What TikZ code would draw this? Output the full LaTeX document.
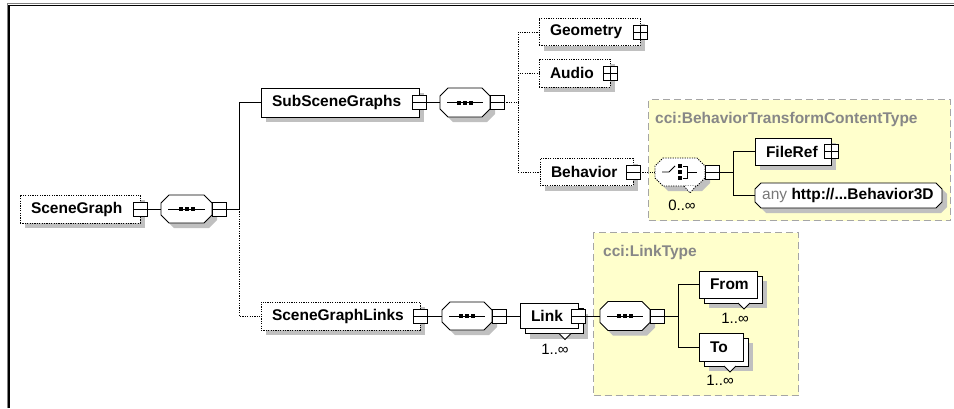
\documentclass[tikz,border=0pt]{standalone}
\usepackage{fontspec}
\setmainfont{Liberation Sans}
\usetikzlibrary{calc,shadows}
\definecolor{shadowc}{RGB}{192,192,192}
\definecolor{ylw}{RGB}{255,255,204}
\definecolor{ydash}{RGB}{165,165,165}
\definecolor{lblgray}{RGB}{135,135,135}
\definecolor{anygray}{RGB}{120,120,120}
\pgfdeclarelayer{bg}
\pgfsetlayers{bg,main}
\newcommand\octo[3]{($(#1.north west)+(#3+#2,#2)$) -- ($(#1.north east)+(-#3+#2,#2)$) -- ($(#1.north east)+(#2,#3+#2)$) -- ($(#1.south east)+(#2,-#3+#2)$) -- ($(#1.south east)+(-#3+#2,#2)$) -- ($(#1.south west)+(#3+#2,#2)$) -- ($(#1.south west)+(#2,-#3+#2)$) -- ($(#1.north west)+(#2,#3+#2)$) -- cycle}
\newcommand\seqsym[1]{%
  \draw[link] ($(#1.west)+(7,0)$) -- ($(#1.east)+(-7,0)$);
  \foreach \dx in {-6,0,6} \fill ($(#1.center)+(\dx-2,-2)$) rectangle +(4,4);}
\newcommand\octshape[2]{% name, extra style
  \begin{pgfonlayer}{bg}
    \fill[shadowc] \octo{#1}{5}{8};
    \filldraw[fill=white, link, #2] \octo{#1}{0}{8};
  \end{pgfonlayer}}
\tikzset{
  link/.style={line width=0.8pt},
  opt/.style={dash pattern=on 1.2pt off 1.2pt},
  elem/.style={draw, fill=white, line width=0.8pt, font=\bfseries\fontsize{15.5}{18}\selectfont,
    inner xsep=11pt, inner ysep=0pt, outer sep=0pt, anchor=west, align=left},
  shad/.style={drop shadow={shadow xshift=5pt, shadow yshift=-5pt, fill=shadowc, opacity=1}},
  sqbox/.style={draw, fill=white, line width=0.8pt, minimum size=14pt, inner sep=0pt, outer sep=0pt},
  minus/.style={sqbox, path picture={\draw[line width=0.8pt] (path picture bounding box.west) -- (path picture bounding box.east);}},
  plus/.style={sqbox, path picture={\draw[line width=0.8pt] (path picture bounding box.west) -- (path picture bounding box.east) (path picture bounding box.north) -- (path picture bounding box.south);}},
  octn/.style={inner sep=0pt, outer sep=0pt},
  ybox/.style={draw=ydash, fill=ylw, dash pattern=on 7pt off 4pt, line width=1pt, inner sep=0pt, anchor=north west},
  ylabel/.style={anchor=west, text=lblgray, font=\bfseries\fontsize{15.5}{18}\selectfont, inner sep=0pt},
  mult/.style={font=\fontsize{15}{17}\selectfont, inner sep=0pt},
  notch/.style={fill=white, line width=0.8pt}
}
\begin{document}
\begin{tikzpicture}[x=1pt,y=-1pt]
\useasboundingbox (0,0) rectangle (954,408);
% frame
\draw[gray, line width=1pt] (7,408) -- (7,3.5) -- (954,3.5);
\draw[black, line width=1.6pt] (9,408) -- (9,5.5) -- (954,5.5);

% yellow type boxes
\begin{pgfonlayer}{bg}
\node[ybox, minimum width=302pt, minimum height=121pt] (bt) at (648,99) {};
\node[ybox, minimum width=205pt, minimum height=163pt] (lt) at (593,232) {};
\end{pgfonlayer}
\node[ylabel] (btl) at (655,119) {cci:BehaviorTransformContentType};
\node[ylabel] (ltl) at (603,252) {cci:LinkType};

% SceneGraph
\node[elem, opt, shad, minimum height=28pt, text width=98pt] (sg) at (20,209) {SceneGraph};
\node[minus] (sgx) at (sg.east) {};
\node[octn, minimum width=51pt, minimum height=28pt] (s1) at (186.5,209) {};
\octshape{s1}{}
\seqsym{s1}
\node[minus, anchor=west] (s1x) at (s1.east) {};
\coordinate (j1) at (239,209);

% SubSceneGraphs
\node[elem, shad, minimum height=29pt, text width=136pt] (ssg) at (261,102.5) {SubSceneGraphs};
\node[minus] (ssgx) at (ssg.east) {};
\node[octn, minimum width=50pt, minimum height=29pt] (s2) at (465,102.5) {};
\octshape{s2}{}
\seqsym{s2}
\node[minus, anchor=west] (s2x) at (s2.east) {};
\coordinate (j2) at (518,102.5);

\node[elem, opt, shad, minimum height=27pt, text width=79pt] (geo) at (539,32) {Geometry};
\node[plus] (geox) at (geo.east) {};
\node[elem, opt, shad, minimum height=28pt, text width=49pt] (aud) at (539,73) {Audio};
\node[plus] (audx) at (aud.east) {};
\node[elem, opt, shad, minimum height=27pt, text width=71pt] (beh) at (540,172) {Behavior};
\node[minus] (behx) at (beh.east) {};

% choice
\node[octn, minimum width=50pt, minimum height=28pt] (ch) at (680,172) {};
\octshape{ch}{opt}
\begin{pgfonlayer}{bg}
\filldraw[notch, opt] ($(ch.south)+(4,0)$) -- ($(ch.south)+(10,7)$) -- ($(ch.south)+(16,0)$);
\end{pgfonlayer}
\draw[link] ($(ch.center)+(-18,0)$) -- ($(ch.center)+(-11,0)$) -- ($(ch.center)+(-5,-6)$);
\foreach \dy in {-6,0,6} \fill ($(ch.center)+(-1.8,\dy-1.8)$) rectangle +(3.6,3.6);
\draw[link] ($(ch.center)+(3,-6)$) -- ($(ch.center)+(7,-6)$) -- ($(ch.center)+(7,6)$) -- ($(ch.center)+(3,6)$);
\draw[link] ($(ch.center)+(7,0)$) -- ($(ch.center)+(17,0)$);
\node[minus, anchor=west] (chx) at (ch.east) {};
\node[mult] (chm) at (682,205) {0..∞};
\coordinate (j3) at (733,172);

\node[elem, shad, minimum height=27pt, text width=54pt] (fr) at (755,151.5) {FileRef};
\node[plus] (frx) at (fr.east) {};
\node[octn, minimum width=187pt, minimum height=25pt] (anyb) at (848.5,195.5) {};
\begin{pgfonlayer}{bg}
  \fill[shadowc] \octo{anyb}{5}{6};
  \filldraw[fill=white, link] \octo{anyb}{0}{6};
\end{pgfonlayer}
\node[anchor=west, inner sep=0pt, font=\bfseries\fontsize{15.5}{18}\selectfont] (any) at ($(anyb.west)+(7,0)$) {{\mdseries\color{anygray}any} http://...Behavior3D};

% SceneGraphLinks
\node[elem, opt, shad, minimum height=28pt, text width=137pt] (sgl) at (261,316) {SceneGraphLinks};
\node[minus] (sglx) at (sgl.east) {};
\node[octn, minimum width=50pt, minimum height=28pt] (s3) at (467,316) {};
\octshape{s3}{}
\seqsym{s3}
\node[minus, anchor=west] (s3x) at (s3.east) {};

\node[elem, shad, minimum width=58pt, minimum height=25pt] (lnkb) at (525,321) {};
\filldraw[notch] ($(lnkb.south east)+(-24,0)$) -- ++(6,6) -- ++(6,-6);
\node[elem, minimum height=25pt, text width=36pt] (lnk) at (520,316) {Link};
\node[minus] (lnkx) at (lnk.east) {};
\node[mult] (lnkm) at (555,349) {1..∞};

\node[octn, minimum width=50pt, minimum height=29pt] (s4) at (625,316) {};
\octshape{s4}{}
\seqsym{s4}
\node[minus, anchor=west] (s4x) at (s4.east) {};
\coordinate (j4) at (678,316);

\node[elem, shad, minimum width=58pt, minimum height=27pt] (fromb) at (704,289.5) {};
\filldraw[notch] ($(fromb.south east)+(-24,0)$) -- ++(6,6) -- ++(6,-6);
\node[elem, minimum height=27pt, text width=36pt] (from) at (699,284.5) {From};
\node[mult] (fromm) at (735,318) {1..∞};

\node[elem, shad, minimum width=44pt, minimum height=28pt] (tob) at (704,352) {};
\filldraw[notch] ($(tob.south east)+(-24,0)$) -- ++(6,6) -- ++(6,-6);
\node[elem, minimum height=28pt, text width=22pt] (to) at (699,347) {To};
\node[mult] (tom) at (720,380) {1..∞};

% connectors
\draw[link] (sgx.east) -- (s1.west);
\draw[link] (s1x.east) -- (j1);
\draw[link] (j1) |- (ssg.west);
\draw[link, opt] (j1) |- (sgl.west);
\draw[link] (ssgx.east) -- (s2.west);
\draw[link, opt] (s2x.east) -- (j2);
\draw[link, opt] (j2) |- (geo.west);
\draw[link, opt] (j2) |- (aud.west);
\draw[link, opt] (j2) |- (beh.west);
\draw[link, opt] (behx.east) -- (ch.west);
\draw[link] (chx.east) -- (j3);
\draw[link] (j3) |- (fr.west);
\draw[link] (j3) |- (anyb.west);
\draw[link] (sglx.east) -- (s3.west);
\draw[link] (s3x.east) -- (lnk.west);
\draw[link] (lnkx.east) -- (s4.west);
\draw[link] (s4x.east) -- (j4);
\draw[link] (j4) |- (from.west);
\draw[link] (j4) |- (to.west);
\end{tikzpicture}
\end{document}
